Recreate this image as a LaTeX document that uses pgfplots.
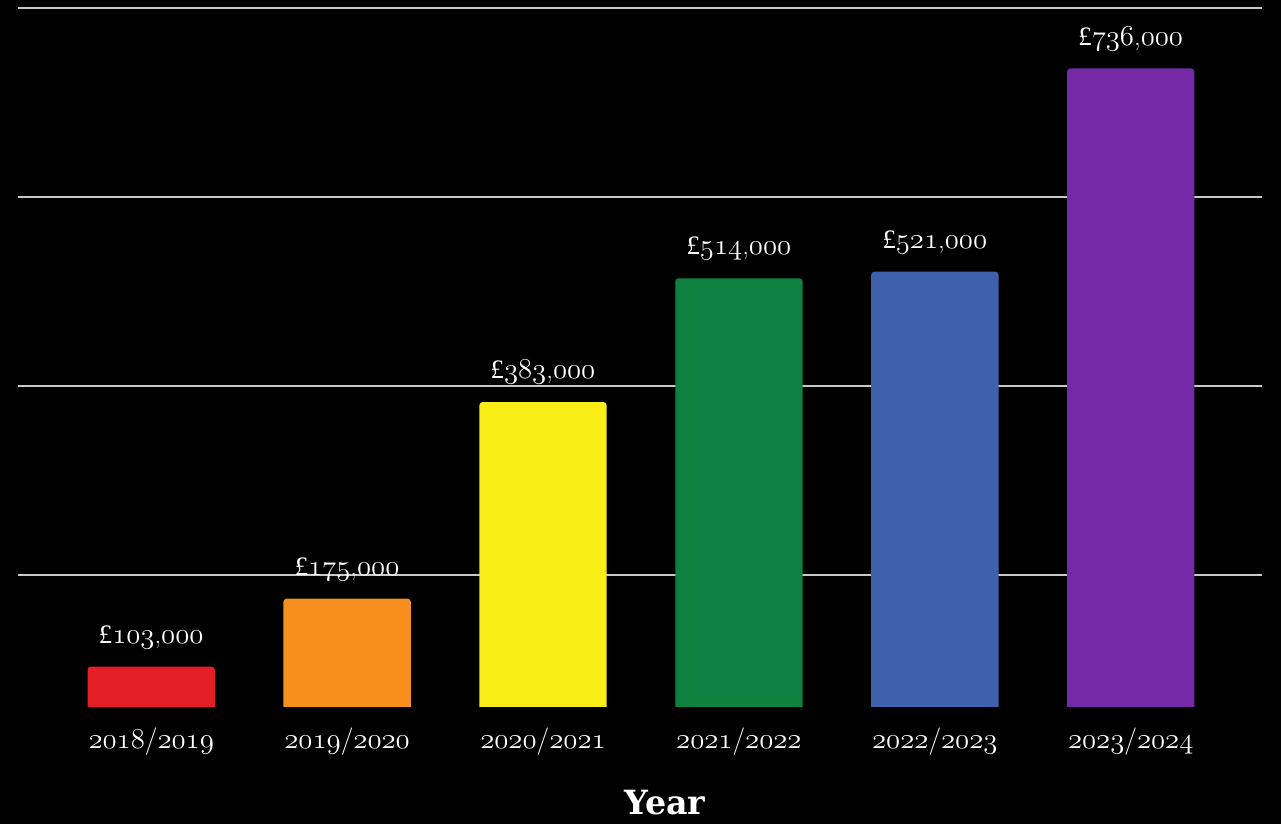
\documentclass[border=0pt]{standalone}
\usepackage{fontspec}
\usepackage{pgfplots}
\pgfplotsset{compat=1.18}
\newfontfamily\slab{DejaVu Serif}
\newfontfamily\lserif{Liberation Serif}
% old-style figures from Computer Modern math italic (digits only)
\newcommand\osf[1]{{\fontencoding{OML}\fontfamily{cmm}\fontseries{m}\fontshape{it}\selectfont #1}}
\definecolor{cred}{RGB}{227,30,38}
\definecolor{corange}{RGB}{246,143,30}
\definecolor{cyellow}{RGB}{248,237,20}
\definecolor{cgreen}{RGB}{14,129,64}
\definecolor{cblue}{RGB}{63,97,173}
\definecolor{cpurple}{RGB}{116,42,166}
\definecolor{gridgray}{RGB}{200,200,200}
\pgfplotsset{
  base/.style={
    at={(0,0)}, anchor=south west,
    scale only axis,
    width=746.4pt, height=453.6pt,
    xmin=-0.68, xmax=5.67,
    ymin=0, ymax=800000,
    axis line style={draw=none},
    major tick length=0pt,
  },
}
\begin{document}
\begin{tikzpicture}
\path[use as bounding box, fill=black] (-10.8pt,-36pt) rectangle (757.8pt,458.4pt);
% bars and grid; the part of the bars below 60000 is clipped away
\begin{scope}
\clip (-10.8pt,34.2pt) rectangle (757.8pt,458.4pt);
\begin{axis}[
    base,
    xtick=\empty,
    ytick={200000,400000,600000,800000},
    yticklabels={},
    ymajorgrids,
    major grid style={gridgray, line width=0.8pt},
    ybar, bar width=0.65, bar shift=0pt,
    every axis plot/.append style={draw=none, rounded corners=2pt},
    point meta=explicit symbolic,
    nodes near coords={{\lserif £}\pgfplotspointmeta},
    every node near coord/.append style={text=white, font=\fontsize{16}{19}\selectfont, anchor=base, yshift=14pt},
]
\addplot[fill=cred] coordinates {(0,103000) [\osf{103},\osf{000}]};
\addplot[fill=corange] coordinates {(1,175000) [\osf{175},\osf{000}]};
\addplot[fill=cyellow] coordinates {(2,383000) [\osf{383},\osf{000}]};
\addplot[fill=cgreen] coordinates {(3,514000) [\osf{514},\osf{000}]};
\addplot[fill=cblue] coordinates {(4,521000) [\osf{521},\osf{000}]};
\addplot[fill=cpurple] coordinates {(5,736000) [\osf{736},\osf{000}]};
\end{axis}
\end{scope}
% category labels and axis title
\begin{axis}[
    base,
    ytick=\empty,
    xtick={0,...,5},
    xticklabels={\osf{2018}/\osf{2019},\osf{2019}/\osf{2020},\osf{2020}/\osf{2021},\osf{2021}/\osf{2022},\osf{2022}/\osf{2023},\osf{2023}/\osf{2024}},
    xticklabel style={text=white, font=\fontsize{16.5}{19}\selectfont, anchor=base, yshift=9pt},
    xlabel={\slab\bfseries Year},
    xlabel style={at={(axis description cs:0.52,-0.0516)}, anchor=center, text=white, font=\fontsize{20}{24}\selectfont},
]
\end{axis}
\end{tikzpicture}
\end{document}
